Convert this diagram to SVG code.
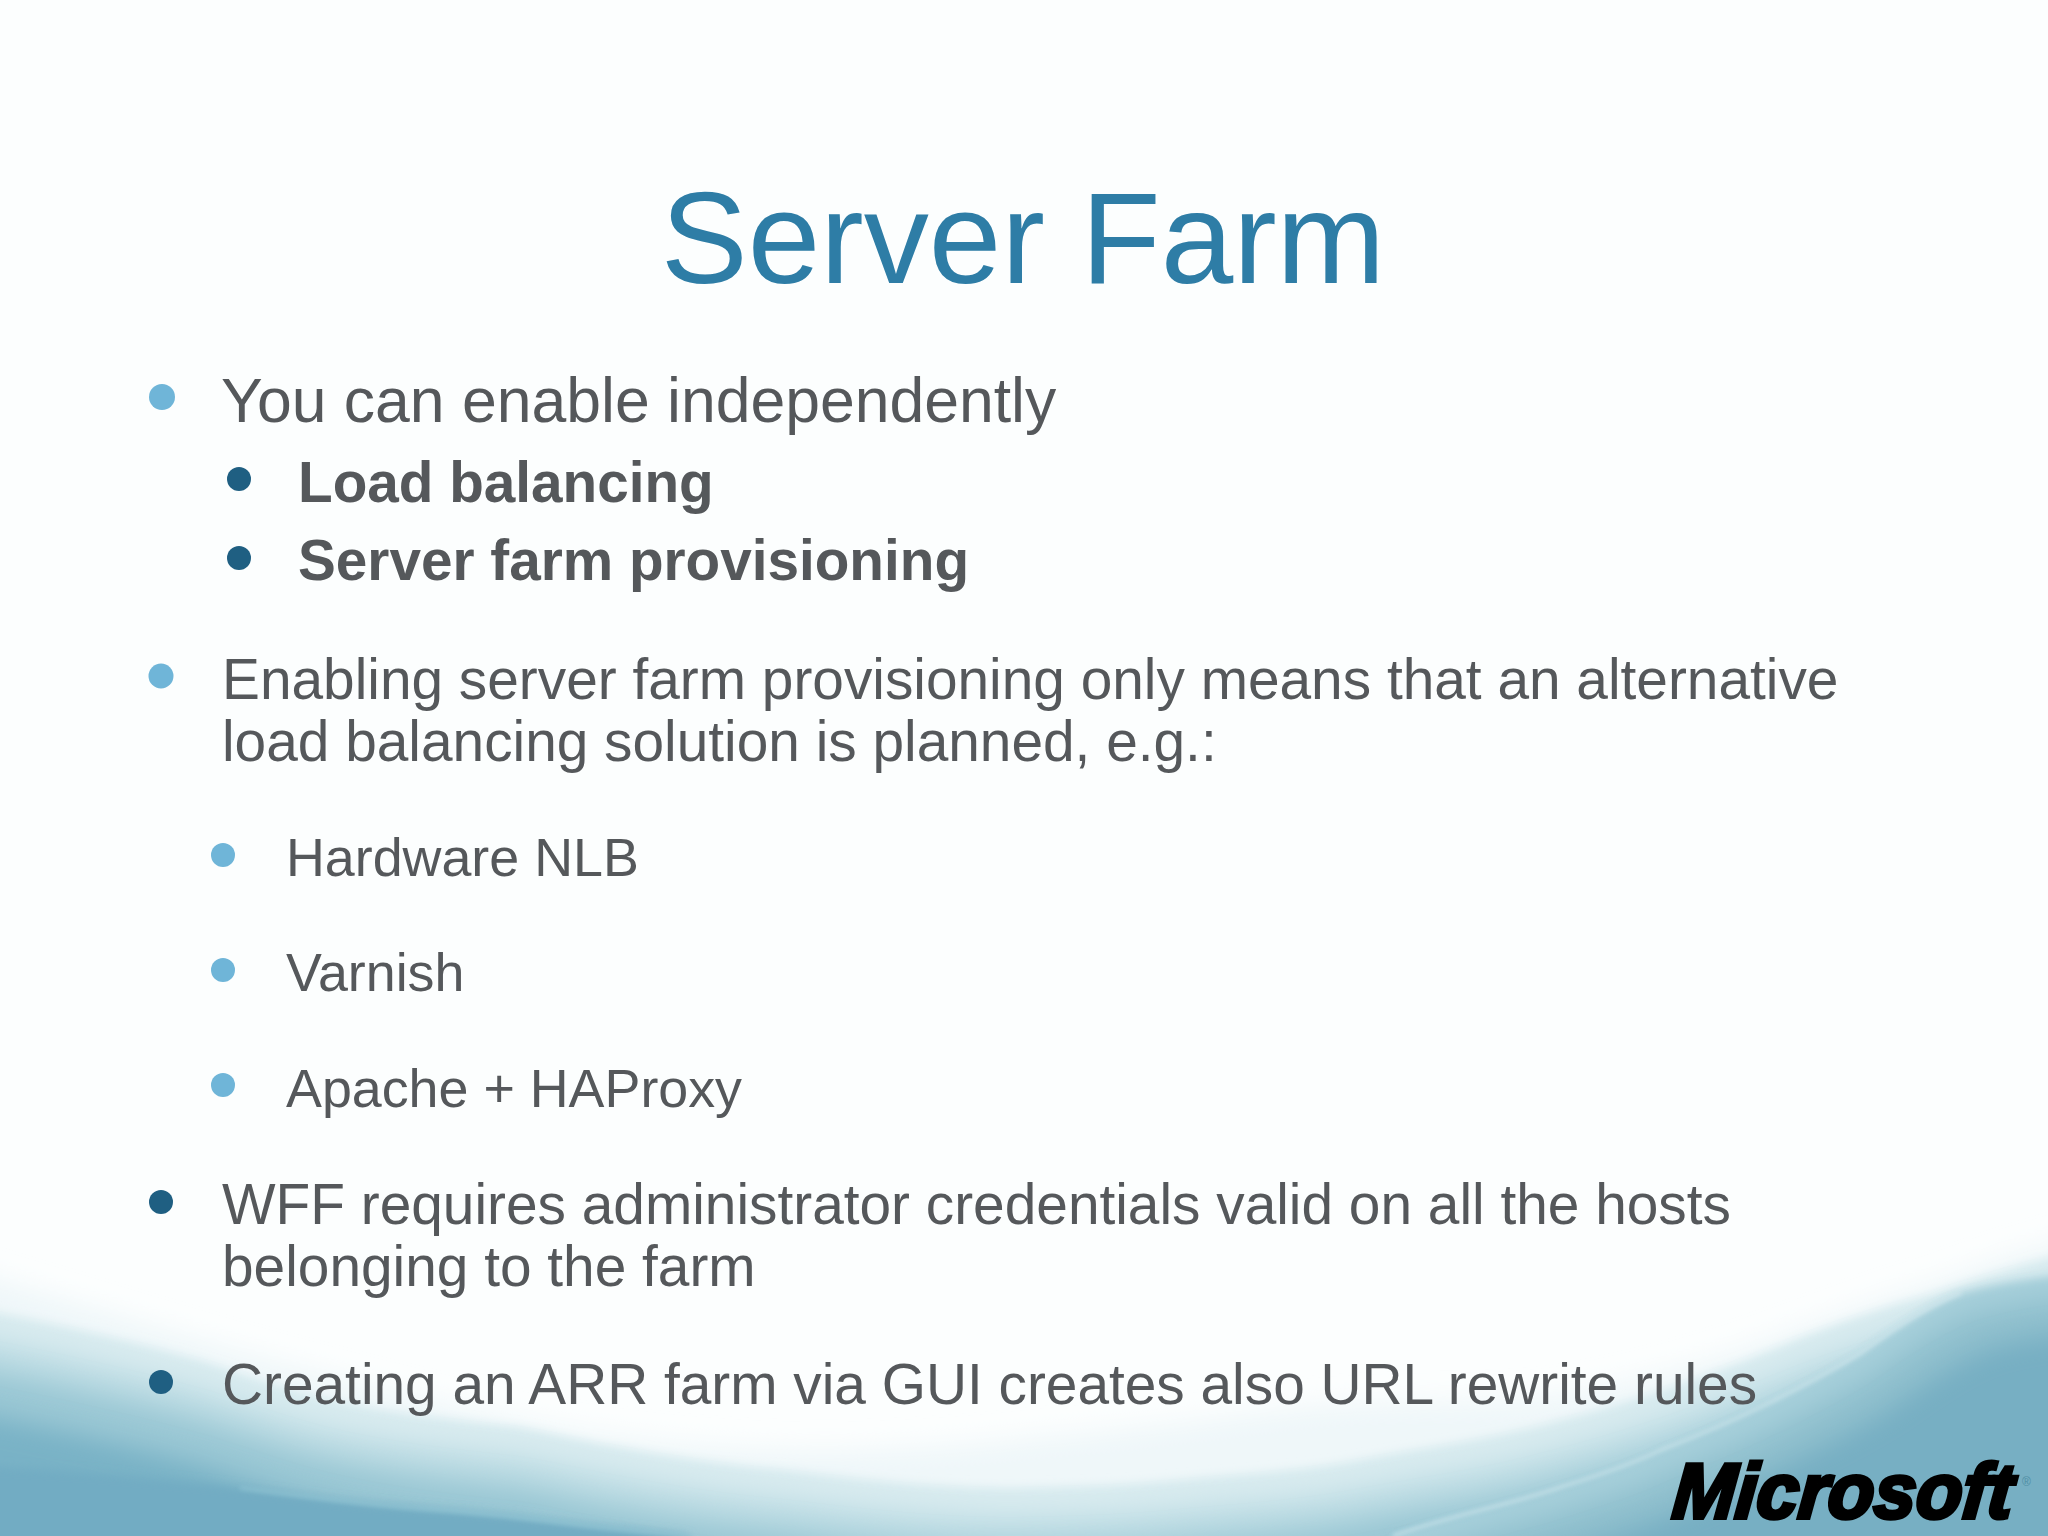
<svg xmlns="http://www.w3.org/2000/svg" width="2048" height="1536" viewBox="0 0 2048 1536">
<style>
text{font-family:"Liberation Sans",Arial,sans-serif;fill:#55585b}
.title{font-size:130.4px;fill:#2e7da6}
.l1{font-size:62.5px}
.l2{font-size:56.8px}
.b{font-size:56.7px;font-weight:700}
.s{font-size:53.8px}
.lt{fill:#6fb5d8}
.dk{fill:#1f5f82}
</style>
<defs>
<filter id="b14" x="-5%" y="-30%" width="110%" height="160%"><feGaussianBlur stdDeviation="13"/></filter>
<filter id="b5" x="-5%" y="-30%" width="110%" height="160%"><feGaussianBlur stdDeviation="5"/></filter>
<filter id="b2" x="-5%" y="-30%" width="110%" height="160%"><feGaussianBlur stdDeviation="2.2"/></filter>
<path id="edge" d="M-60 1300L0 1313C70 1327 140 1343 200 1360C260 1380 300 1393 333 1400C400 1415 460 1420 520 1427C560 1435 590 1442 620 1447C680 1458 730 1465 787 1470C880 1482 970 1490 1040 1487C1100 1486 1150 1483 1207 1477C1270 1472 1320 1468 1373 1457C1440 1445 1500 1437 1560 1420C1640 1400 1720 1372 1795 1340C1840 1322 1880 1308 1928 1295C1970 1280 2010 1268 2048 1258L2110 1240V1700H-60Z"/>
<path id="teal" d="M1393 1536C1450 1515 1510 1505 1561 1487C1600 1475 1630 1465 1661 1450C1700 1435 1730 1422 1761 1407C1800 1388 1830 1372 1861 1353C1900 1325 1930 1305 1961 1293C1990 1285 2020 1280 2048 1277L2120 1270V1700H1393Z"/>
</defs>
<rect id="bg" width="2048" height="1536" fill="#fcfefe"/>
<g id="waves">
<path d="M-60 1260L0 1280C120 1315 300 1375 520 1420C640 1445 760 1452 853 1450C930 1448 990 1443 1040 1437C1130 1430 1220 1418 1307 1407C1400 1398 1490 1405 1560 1395C1650 1380 1730 1355 1795 1330C1840 1315 1880 1298 1928 1285C1970 1270 2010 1255 2048 1245L2110 1225V1700H-60Z" fill="#eff7f9" filter="url(#b14)"/>
<use href="#edge" fill="#d8ebef" filter="url(#b5)"/>
<use href="#edge" y="30" fill="#bcdbe3" filter="url(#b14)"/>
<use href="#edge" y="60" fill="#9ac7d4" filter="url(#b14)"/>
<use href="#edge" y="105" fill="#79b2c6" filter="url(#b14)"/>
<path d="M-60 1464L0 1467C50 1470 90 1473 133 1477C210 1484 270 1492 333 1500C400 1507 460 1511 520 1517C580 1525 640 1530 687 1536L720 1600H-60Z" fill="#72acc3" filter="url(#b5)"/>
<path d="M240 1488C300 1496 350 1502 400 1507C460 1511 520 1517 580 1525C620 1530 650 1532 687 1536" fill="none" stroke="#9fd0dc" stroke-width="3" opacity=".5" filter="url(#b2)"/>
<use href="#teal" fill="#a6cfda" filter="url(#b5)"/>
<use href="#teal" x="12" y="22" fill="#8fbfcd" filter="url(#b14)"/>
<use href="#teal" x="30" y="55" fill="#77afc3" filter="url(#b14)"/>
<path d="M1393 1536C1450 1515 1510 1505 1561 1487C1600 1475 1630 1465 1661 1450C1700 1435 1730 1422 1761 1407C1800 1388 1830 1372 1861 1353C1900 1325 1930 1305 1961 1293" fill="none" stroke="#dceef2" stroke-width="3" opacity=".6" filter="url(#b2)"/>
</g>
<g id="title"><text class="title" x="1023" y="283" text-anchor="middle">Server Farm</text></g>
<g id="bullets">
<circle class="lt" cx="162" cy="397" r="13"/>
<circle class="dk" cx="239" cy="479" r="12"/>
<circle class="dk" cx="239" cy="558" r="12"/>
<circle class="lt" cx="161" cy="676" r="12.5"/>
<circle class="lt" cx="223" cy="855" r="12"/>
<circle class="lt" cx="223" cy="970" r="12"/>
<circle class="lt" cx="223" cy="1085" r="12"/>
<circle class="dk" cx="161" cy="1202" r="12"/>
<circle class="dk" cx="161" cy="1382" r="12"/>
</g>
<g id="body">
<text class="l1" x="221" y="422">You can enable independently</text>
<text class="b" x="298" y="502">Load balancing</text>
<text class="b" x="298" y="580">Server farm provisioning</text>
<text class="l2" x="222" y="699">Enabling server farm provisioning only means that an alternative</text>
<text class="l2" x="222" y="761">load balancing solution is planned, e.g.:</text>
<text class="s" x="286" y="876">Hardware NLB</text>
<text class="s" x="286" y="991">Varnish</text>
<text class="s" x="286" y="1107">Apache + HAProxy</text>
<text class="l2" x="222" y="1224">WFF requires administrator credentials valid on all the hosts</text>
<text class="l2" x="222" y="1286">belonging to the farm</text>
<text class="l2" x="222" y="1404">Creating an ARR farm via GUI creates also URL rewrite rules</text>
</g>
<g id="logo">
<text transform="translate(1671 1518) skewX(-5)" font-size="78" font-weight="700" font-style="italic" textLength="340" lengthAdjust="spacingAndGlyphs" style="fill:#000;stroke:#000;stroke-width:4">Microsoft</text>
<text x="2022" y="1486" font-size="12" style="fill:#4f8ea3">®</text>
</g>
</svg>
